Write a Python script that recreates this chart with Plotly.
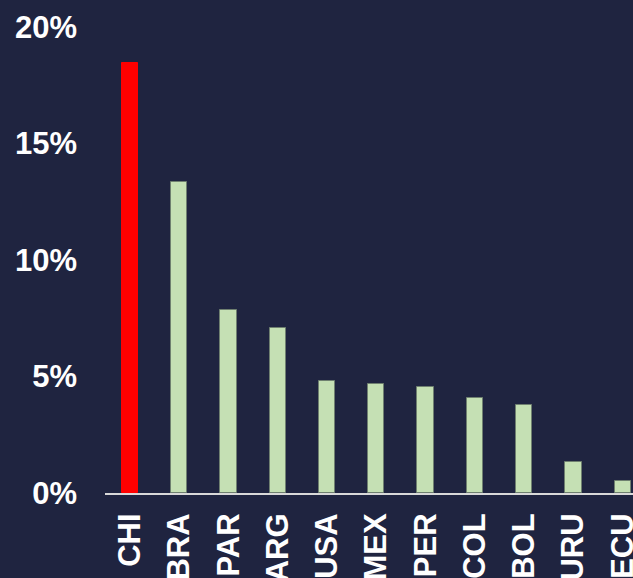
import plotly.graph_objects as go

# Share by country (%)
countries = ["CHI", "BRA", "PAR", "ARG", "USA", "MEX", "PER", "COL", "BOL", "URU", "ECU"]
shares = [18.45, 13.36, 7.84, 7.07, 4.79, 4.67, 4.55, 4.08, 3.78, 1.32, 0.52]
highlight = "CHI"

y_ticks = [0, 5, 10, 15, 20]
y_tick_labels = [f"{v}%" for v in y_ticks]

bg = "#1f2440"
bar_colors = ["#ff0000" if c == highlight else "#c5e0b4" for c in countries]
line_colors = ["#ff0000" if c == highlight else "#6f8070" for c in countries]

fig = go.Figure(
    go.Bar(
        x=countries,
        y=shares,
        width=0.33,
        marker=dict(color=bar_colors, line=dict(color=line_colors, width=1)),
        hoverinfo="x+y",
    )
)

label_font = dict(family="Liberation Sans, Arial, sans-serif", size=31, color="white", weight="bold")

fig.update_layout(
    width=633,
    height=578,
    margin=dict(l=105, r=0, t=27, b=85, autoexpand=False),
    paper_bgcolor=bg,
    plot_bgcolor=bg,
    showlegend=False,
    font=dict(family="Liberation Sans, Arial, sans-serif", color="white"),
    bargap=0,
)

fig.update_xaxes(
    type="category",
    range=[-0.508, 10.21],
    tickangle=-90,
    tickfont=label_font,
    showline=True,
    linecolor="#d9d9d9",
    linewidth=2,
    ticks="",
    ticklabelstandoff=6,
    showgrid=False,
    zeroline=False,
    automargin=False,
)

fig.update_yaxes(
    range=[0, 20],
    tickvals=y_ticks,
    ticktext=y_tick_labels,
    tickfont=label_font,
    showgrid=False,
    zeroline=False,
    showline=False,
    ticks="",
    ticklabelstandoff=27,
    automargin=False,
)

fig.write_html("out.html")
